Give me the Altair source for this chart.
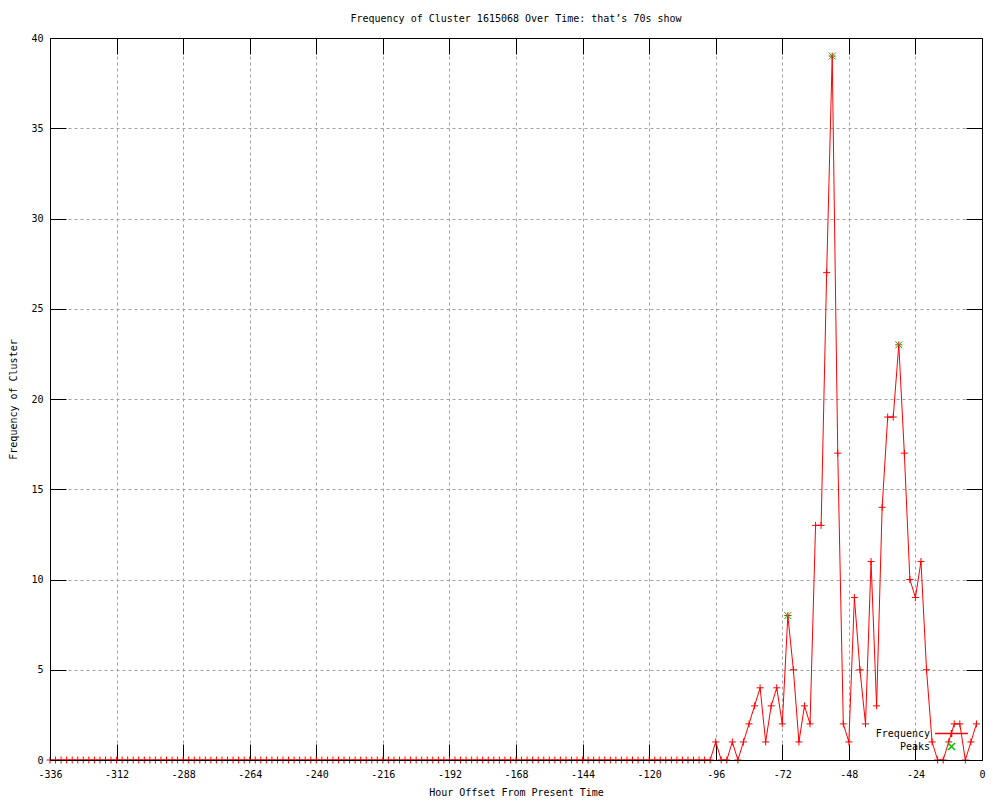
import altair as alt
import pandas as pd

# ---- data ----
hours = list(range(-336, 0, 2))  # one sample every 2 hours, -336 .. -2

zeros_before = [
    0, 0, 0, 0, 0, 0, 0, 0, 0, 0, 0, 0, 0, 0, 0, 0, 0, 0, 0, 0,
    0, 0, 0, 0, 0, 0, 0, 0, 0, 0, 0, 0, 0, 0, 0, 0, 0, 0, 0, 0,
    0, 0, 0, 0, 0, 0, 0, 0, 0, 0, 0, 0, 0, 0, 0, 0, 0, 0, 0, 0,
    0, 0, 0, 0, 0, 0, 0, 0, 0, 0, 0, 0, 0, 0, 0, 0, 0, 0, 0, 0,
    0, 0, 0, 0, 0, 0, 0, 0, 0, 0, 0, 0, 0, 0, 0, 0, 0, 0, 0, 0,
    0, 0, 0, 0, 0, 0, 0, 0, 0, 0, 0, 0, 0, 0, 0, 0, 0, 0, 0, 0,
]  # -336 .. -98
recent = [
    1, 0, 0, 1, 0, 1, 2, 3, 4, 1, 3, 4, 2, 8, 5, 1, 3, 2, 13, 13,
    27, 39, 17, 2, 1, 9, 5, 2, 11, 3, 14, 19, 19, 23, 17, 10, 9, 11, 5, 1,
    0, 0, 1, 2, 2, 0, 1, 2,
]  # -96 .. -2
frequency = zeros_before + recent

peak_hours = [-70, -54, -30]
peak_values = [8, 39, 23]

x_ticks = [-336, -312, -288, -264, -240, -216, -192, -168, -144, -120, -96, -72, -48, -24, 0]
y_ticks = [0, 5, 10, 15, 20, 25, 30, 35, 40]
legend_labels = ["Frequency", "Peaks"]

title_text = "Frequency of Cluster 1615068 Over Time: that\u2019s 70s show"
x_title = "Hour Offset From Present Time"
y_title = "Frequency of Cluster"

df = pd.DataFrame({"hour": hours, "freq": frequency})
df_peaks = pd.DataFrame({"hour": peak_hours, "freq": peak_values})
one = pd.DataFrame({"k": [0]})

FONT = "DejaVu Sans Mono"
RED = "#ff0000"
GREEN = "#00c000"
PLUS = "M-1,0L1,0M0,-1L0,1"
XSHAPE = "M-1,-1L1,1M-1,1L1,-1"
# key sample for the line series: a 33px segment with a 7px "+" at its middle
KEY_LINE = "M-1,0L1,0M0,-0.212L0,0.212"

xscale = alt.Scale(domain=[-336, 0], nice=False, zero=False)
yscale = alt.Scale(domain=[0, 40], nice=False, zero=False)

x_bottom = alt.Axis(
    values=x_ticks, labelExpr="'' + datum.value", grid=True, gridColor="#a0a0a0",
    gridDash=[3, 3], gridOpacity=1, domain=False, tickSize=16, tickColor="black",
    offset=-16, labelPadding=9, labelFlush=False, labelOverlap=False,
    title=x_title, titlePadding=8,
)
y_left = alt.Axis(
    values=y_ticks, grid=True, gridColor="#a0a0a0", gridDash=[3, 3], gridOpacity=1,
    domain=False, tickSize=16, tickColor="black", offset=-16, labelPadding=7,
    labelFlush=False, labelOverlap=False, title=y_title, titlePadding=12,
)
x_top = alt.Axis(orient="top", values=x_ticks, labels=False, domain=False, grid=False,
                 tickSize=16, tickColor="black", offset=-16, title=None)
y_right = alt.Axis(orient="right", values=y_ticks, labels=False, domain=False, grid=False,
                   tickSize=16, tickColor="black", offset=-16, title=None)

line = alt.Chart(df).mark_line(color=RED, strokeWidth=1).encode(
    x=alt.X("hour:Q", scale=xscale, axis=x_bottom),
    y=alt.Y("freq:Q", scale=yscale, axis=y_left),
)

mirror = alt.Chart(df).mark_point(opacity=0).encode(
    x=alt.X("hour:Q", scale=xscale, axis=x_top),
    y=alt.Y("freq:Q", scale=yscale, axis=y_right),
)

points = alt.Chart(df).mark_point(shape=PLUS, filled=False, color=RED, strokeWidth=1,
                                  size=49, opacity=1).encode(
    x=alt.X("hour:Q", scale=xscale, axis=None),
    y=alt.Y("freq:Q", scale=yscale, axis=None),
)

peaks = alt.Chart(df_peaks).mark_point(shape=XSHAPE, filled=False, color=GREEN,
                                       strokeWidth=1, size=49, opacity=1).encode(
    x=alt.X("hour:Q", scale=xscale, axis=None),
    y=alt.Y("freq:Q", scale=yscale, axis=None),
)

frame = alt.Chart(one).mark_rect(filled=False, strokeWidth=1, color="black",
                                 xOffset=0.5, x2Offset=0.5, yOffset=0.5, y2Offset=0.5).encode(
    x=alt.XDatum(-336, scale=xscale, axis=None),
    x2=alt.X2Datum(0),
    y=alt.YDatum(0, scale=yscale, axis=None),
    y2=alt.Y2Datum(40),
)

# ---- key (legend), placed in the lower right corner of the plot area ----
leg_text1 = alt.Chart(one).mark_text(align="right", baseline="middle", font=FONT,
                                     fontSize=10, color="black").encode(
    x=alt.value(880), y=alt.value(695.5), text=alt.value(legend_labels[0]))
leg_text2 = alt.Chart(one).mark_text(align="right", baseline="middle", font=FONT,
                                     fontSize=10, color="black").encode(
    x=alt.value(880), y=alt.value(708.5), text=alt.value(legend_labels[1]))
leg_line = alt.Chart(one).mark_point(shape=KEY_LINE, filled=False, color=RED, strokeWidth=1.5,
                                     size=1089, opacity=1).encode(
    x=alt.value(901.5), y=alt.value(695.5))
leg_x = alt.Chart(one).mark_point(shape=XSHAPE, filled=False, color=GREEN, strokeWidth=1.5,
                                  size=49, opacity=1).encode(
    x=alt.value(901.5), y=alt.value(708.5))

chart = alt.layer(
    line, mirror, points, peaks, frame, leg_text1, leg_text2, leg_line, leg_x
).resolve_axis(
    x="independent", y="independent"
).properties(
    width=932, height=722,
    autosize=alt.AutoSizeParams(type="none"),
    padding={"left": 42, "top": 30, "right": 10, "bottom": 42},
    title=alt.TitleParams(title_text, font=FONT, fontSize=10, fontWeight="normal",
                          color="black", frame="group", anchor="middle", offset=9),
).configure_view(
    stroke="transparent"
).configure_axis(
    labelFont=FONT, labelFontSize=10, labelColor="black",
    titleFont=FONT, titleFontSize=10, titleFontWeight="normal", titleColor="black",
)

chart.save("out.html", embed_options={"renderer": "svg", "actions": False})
